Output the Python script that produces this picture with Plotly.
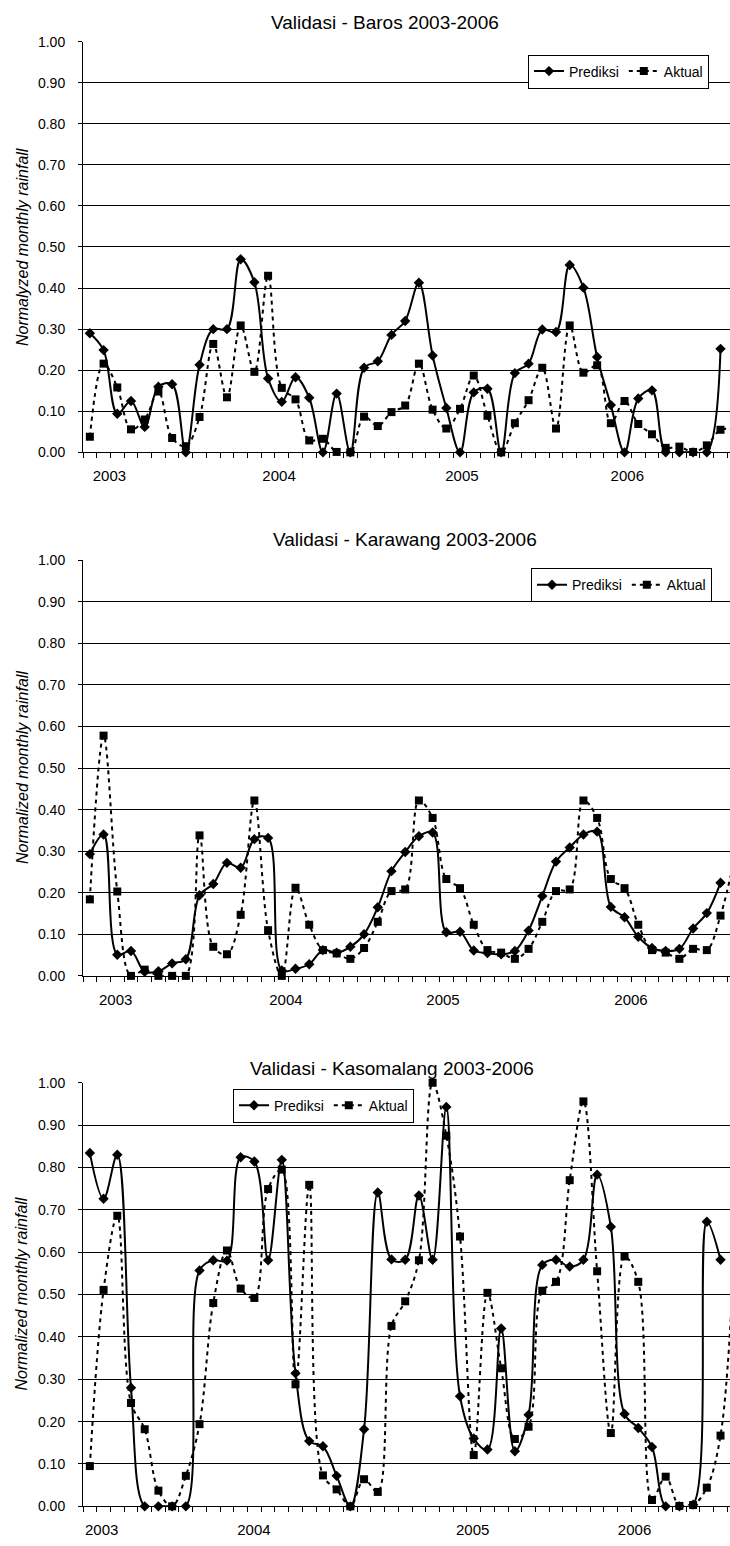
import numpy as np
import plotly.graph_objects as go

# ---------------- data (normalized monthly rainfall, monthly from Dec 2002) -------------
years = ["2003", "2004", "2005", "2006"]

baros_prediksi = [0.290, 0.249, 0.094, 0.125, 0.062, 0.160, 0.166, 0.000, 0.213, 0.300,
                  0.300, 0.470, 0.414, 0.180, 0.123, 0.183, 0.133, 0.000, 0.143, 0.000,
                  0.206, 0.222, 0.286, 0.320, 0.413, 0.236, 0.108, 0.000, 0.146, 0.155,
                  0.000, 0.193, 0.216, 0.299, 0.293, 0.456, 0.401, 0.232, 0.115, 0.000,
                  0.131, 0.151, 0.000, 0.000, 0.000, 0.000, 0.252]
baros_aktual = [0.038, 0.216, 0.158, 0.056, 0.080, 0.148, 0.035, 0.015, 0.086, 0.264,
                0.134, 0.309, 0.196, 0.430, 0.157, 0.129, 0.029, 0.033, 0.001, 0.000,
                0.087, 0.064, 0.098, 0.114, 0.216, 0.104, 0.058, 0.106, 0.187, 0.089,
                0.000, 0.071, 0.127, 0.206, 0.058, 0.309, 0.194, 0.212, 0.071, 0.125,
                0.069, 0.044, 0.011, 0.014, 0.001, 0.017, 0.055, 0.055]

karawang_prediksi = [0.293, 0.340, 0.051, 0.060, 0.010, 0.011, 0.030, 0.040, 0.194, 0.221,
                     0.272, 0.260, 0.329, 0.332, 0.013, 0.017, 0.028, 0.062, 0.056, 0.070,
                     0.100, 0.165, 0.252, 0.298, 0.336, 0.345, 0.105, 0.106, 0.061, 0.055,
                     0.052, 0.060, 0.109, 0.192, 0.275, 0.309, 0.340, 0.347, 0.166, 0.141,
                     0.094, 0.067, 0.060, 0.065, 0.114, 0.151, 0.224]
karawang_aktual = [0.184, 0.578, 0.203, 0.000, 0.015, 0.000, 0.000, 0.000, 0.338, 0.070,
                   0.052, 0.147, 0.422, 0.110, 0.000, 0.212, 0.123, 0.062, 0.054, 0.041,
                   0.067, 0.130, 0.204, 0.208, 0.422, 0.380, 0.233, 0.211, 0.123, 0.062,
                   0.056, 0.041, 0.065, 0.130, 0.204, 0.208, 0.422, 0.380, 0.233, 0.211,
                   0.123, 0.062, 0.056, 0.041, 0.065, 0.062, 0.145, 0.280]

kasomalang_prediksi = [0.834, 0.726, 0.830, 0.280, 0.000, 0.000, 0.000, 0.000, 0.557, 0.581,
                       0.580, 0.824, 0.814, 0.581, 0.818, 0.314, 0.154, 0.142, 0.072, 0.000,
                       0.182, 0.741, 0.583, 0.582, 0.734, 0.582, 0.943, 0.260, 0.160, 0.134,
                       0.420, 0.130, 0.216, 0.570, 0.582, 0.566, 0.582, 0.783, 0.660, 0.218,
                       0.185, 0.140, 0.000, 0.000, 0.004, 0.672, 0.582]
kasomalang_aktual = [0.095, 0.511, 0.686, 0.244, 0.182, 0.037, 0.000, 0.072, 0.194, 0.480,
                     0.604, 0.514, 0.492, 0.749, 0.795, 0.288, 0.759, 0.073, 0.040, 0.000,
                     0.064, 0.034, 0.426, 0.484, 0.581, 1.000, 0.875, 0.637, 0.121, 0.504,
                     0.326, 0.159, 0.188, 0.509, 0.530, 0.770, 0.956, 0.555, 0.173, 0.590,
                     0.530, 0.015, 0.070, 0.001, 0.003, 0.044, 0.167, 0.600]

# year label positions on the category axis (month index)
baros_year_pos = [1.43, 13.8, 27.14, 39.2]
karawang_year_pos = [1.88, 14.3, 25.76, 39.47]
kasomalang_year_pos = [0.86, 11.97, 27.92, 39.73]

# ---------------- layout ----------------
W, H = 730, 1546
FONT = "Liberation Sans, Arial, sans-serif"
X_LEFT = 83          # px, plot-area left edge
STEP = 13.71         # px per month
x_range = [-0.5, -0.5 + (W - X_LEFT) / STEP]

panels = [
    dict(title="Validasi - Baros 2003-2006", ytitle="Normalyzed monthly rainfall",
         pred=baros_prediksi, akt=baros_aktual, ypos=baros_year_pos,
         top=34, bottom=449, title_px=(385, 15),
         legend=dict(x=709, y=47, xanchor="right")),
    dict(title="Validasi - Karawang 2003-2006", ytitle="Normalized monthly rainfall",
         pred=karawang_prediksi, akt=karawang_aktual, ypos=karawang_year_pos,
         top=558, bottom=978, title_px=(405, 537),
         legend=dict(x=712, y=566, xanchor="right")),
    dict(title="Validasi - Kasomalang 2003-2006", ytitle="Normalized monthly rainfall",
         pred=kasomalang_prediksi, akt=kasomalang_aktual, ypos=kasomalang_year_pos,
         top=1086, bottom=1514, title_px=(392, 1072),
         legend=dict(x=233, y=1092, xanchor="left")),
]

fig = go.Figure()
layout = dict(
    width=W, height=H,
    margin=dict(l=0, r=0, t=0, b=0),
    paper_bgcolor="white", plot_bgcolor="white",
    font=dict(family=FONT, color="black"),
    annotations=[],
)

for i, p in enumerate(panels, start=1):
    sfx = "" if i == 1 else str(i)
    leg = "legend" if i == 1 else f"legend{i}"
    xa, ya = f"x{sfx}", f"y{sfx}"

    fig.add_trace(go.Scatter(
        x=np.arange(len(p["pred"])), y=p["pred"], name="Prediksi",
        mode="lines+markers", line=dict(color="black", width=2, shape="spline", smoothing=1),
        marker=dict(symbol="diamond", size=8, color="black"),
        xaxis=xa, yaxis=ya, legend=leg, cliponaxis=False,
    ))
    fig.add_trace(go.Scatter(
        x=np.arange(len(p["akt"])), y=p["akt"], name="Aktual",
        mode="lines+markers",
        line=dict(color="black", width=2, dash="4px,4px", shape="spline", smoothing=1),
        marker=dict(symbol="square", size=8, color="black"),
        xaxis=xa, yaxis=ya, legend=leg, cliponaxis=False,
    ))

    ydom = [1 - p["bottom"] / H, 1 - p["top"] / H]
    layout[f"xaxis{sfx}"] = dict(
        domain=[X_LEFT / W, 1], range=x_range, anchor=ya,
        showline=True, linecolor="black", linewidth=1,
        showgrid=False, zeroline=False,
        tickmode="array", tickvals=p["ypos"], ticktext=years, ticks="",
        tickfont=dict(size=15, family=FONT), ticklabelstandoff=10,
        minor=dict(tickmode="linear", tick0=-0.5, dtick=1, ticks="outside",
                   ticklen=5, tickcolor="black", tickwidth=1, showgrid=False),
    )
    layout[f"yaxis{sfx}"] = dict(
        domain=ydom, range=[0, 1], anchor=xa,
        tickmode="linear", tick0=0, dtick=0.1, tickformat=".2f",
        ticks="outside", ticklen=4, tickcolor="black",
        showline=True, linecolor="black", linewidth=1,
        showgrid=True, gridcolor="black", gridwidth=1, zeroline=False,
        tickfont=dict(size=14, family=FONT), ticklabelstandoff=10,
    )
    lg = p["legend"]
    layout[leg] = dict(
        orientation="h", x=lg["x"] / W, y=1 - lg["y"] / H,
        xanchor=lg["xanchor"], yanchor="top",
        bgcolor="white", bordercolor="black", borderwidth=1,
        font=dict(size=14, family=FONT), traceorder="normal",
    )
    tx, ty = p["title_px"]
    layout["annotations"].append(dict(
        text=p["title"], x=tx / W, y=1 - ty / H, xref="paper", yref="paper",
        xanchor="center", yanchor="middle", showarrow=False,
        font=dict(size=19, family=FONT),
    ))
    layout["annotations"].append(dict(
        text=p["ytitle"], x=22 / W, y=(ydom[0] + ydom[1]) / 2, xref="paper", yref="paper",
        xanchor="center", yanchor="middle", showarrow=False, textangle=-90,
        font=dict(size=16, family=FONT, style="italic"),
    ))

fig.update_layout(**layout)
fig.write_html("out.html",
               config={"displayModeBar": False, "staticPlot": True},
               post_script="document.body.style.margin='0';document.body.style.overflow='hidden';")
